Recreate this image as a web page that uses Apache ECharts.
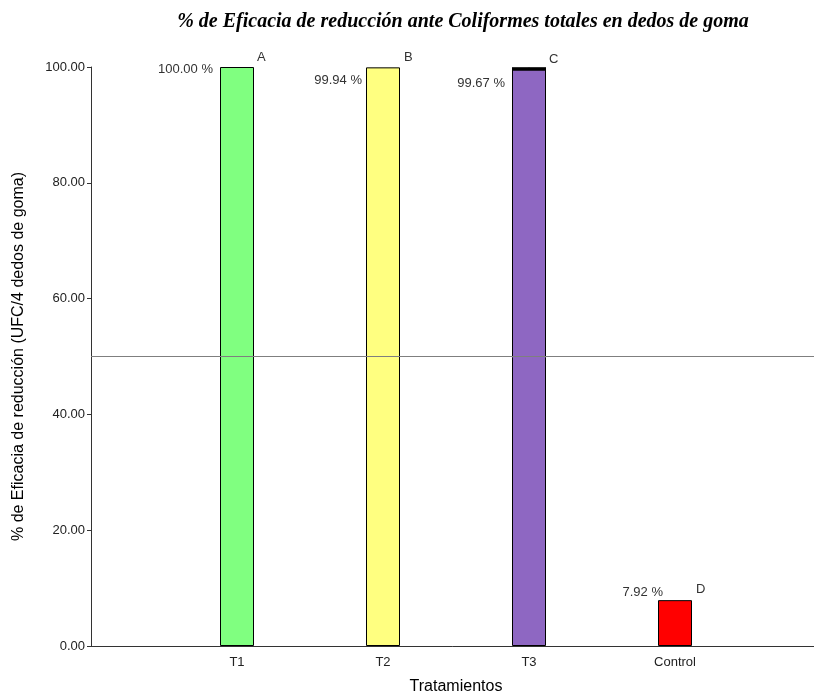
<!DOCTYPE html>
<html>
<head>
<meta charset="utf-8">
<script src="https://cdn.jsdelivr.net/npm/echarts@6/dist/echarts.min.js"></script>
<style>
  html, body { margin: 0; padding: 0; background: #fff; }
  #chart { width: 814px; height: 692px; }
</style>
</head>
<body>
<div id="chart"></div>
<script>
// Treatments and their reduction efficacy (%)
const categories = ['T1', 'T2', 'T3', 'Control'];
const eficacia = [100.00, 99.94, 99.67, 7.92];
const letras = ['A', 'B', 'C', 'D'];
// half-width of the error bar for each treatment
const desviacion = [0, 0, 0.2, 0];
const yTicks = [0, 20, 40, 60, 80, 100];

// style tables (kept apart from the data)
const barColors = ['#80FF80', '#FFFF80', '#8E67C2', '#FF0000'];
const valueLabelPos = [[-7, 2], [-4, 13], [-7, 15], [5, -8]];
const letterLabelPos = [[37, -10], [38, -10], [37, -9], [38, -11]];

const FONT = '"Liberation Sans", Arial, sans-serif';
// empty slot on either side so the bars sit one step in from each edge
const axisCats = [''].concat(categories, ['']);

const chart = echarts.init(document.getElementById('chart'), null, { renderer: 'canvas' });

const valueData = categories.map((c, i) => ({
  value: [c, eficacia[i]],
  itemStyle: { color: barColors[i] },
  label: { position: valueLabelPos[i] }
}));

const letterData = categories.map((c, i) => ({
  value: [c, eficacia[i]],
  label: { position: letterLabelPos[i], formatter: letras[i] }
}));

const errData = categories.map((c, i) => [c, eficacia[i] - desviacion[i], eficacia[i] + desviacion[i]]);

chart.setOption({
  animation: false,
  backgroundColor: '#fff',
  title: {
    text: '% de Eficacia de reducción ante Coliformes totales en dedos de goma',
    left: 458, top: 7, textAlign: 'center',
    textStyle: {
      fontFamily: '"Liberation Serif", "Times New Roman", serif',
      fontStyle: 'italic', fontWeight: 'bold', fontSize: 20, color: '#000'
    }
  },
  grid: { left: 91, top: 67, bottom: 46, width: 730, outerBoundsMode: 'none', containLabel: false },
  xAxis: {
    type: 'category',
    data: axisCats,
    boundaryGap: false,
    name: 'Tratamientos',
    nameLocation: 'middle',
    nameGap: 33,
    nameTextStyle: { fontFamily: FONT, fontSize: 16, color: '#000' },
    axisLine: { lineStyle: { color: '#333', width: 1 } },
    axisTick: { show: false },
    axisLabel: { fontFamily: FONT, fontSize: 13, color: '#222', margin: 10, interval: 0 },
    splitLine: { show: false }
  },
  yAxis: {
    type: 'value',
    min: yTicks[0], max: yTicks[yTicks.length - 1], interval: 20,
    name: '% de Eficacia de reducción (UFC/4 dedos de goma)',
    nameLocation: 'middle',
    nameGap: 64,
    nameTextStyle: { fontFamily: FONT, fontSize: 16, color: '#000' },
    axisLine: { show: true, lineStyle: { color: '#333', width: 1 } },
    axisTick: { show: true, length: 4, lineStyle: { color: '#333' } },
    axisLabel: {
      fontFamily: FONT, fontSize: 13, color: '#222', margin: 6,
      formatter: v => v.toFixed(2)
    },
    splitLine: { show: false }
  },
  series: [
    {
      // reference line at 50 %
      type: 'line', data: [], z: 1, silent: true,
      markLine: {
        symbol: 'none', silent: true,
        label: { show: false },
        lineStyle: { color: '#7f7f7f', width: 1, type: 'solid' },
        data: [{ yAxis: 50 }]
      }
    },
    {
      type: 'bar', z: 2,
      barWidth: 34, barGap: '-100%',
      data: valueData,
      itemStyle: { borderColor: '#000', borderWidth: 1 },
      label: {
        show: true, align: 'right', verticalAlign: 'middle',
        fontFamily: FONT, fontSize: 13, color: '#333',
        formatter: p => p.value[1].toFixed(2) + ' %'
      }
    },
    {
      type: 'bar', z: 3,
      barWidth: 34, barGap: '-100%',
      data: letterData,
      itemStyle: { color: 'rgba(0,0,0,0)' },
      label: {
        show: true, align: 'left', verticalAlign: 'middle',
        fontFamily: FONT, fontSize: 13, color: '#333'
      }
    },
    {
      type: 'custom', z: 4,
      data: errData,
      encode: { x: 0, y: [1, 2] },
      renderItem: function (params, api) {
        const x = api.value(0);
        const lo = api.coord([x, api.value(1)]);
        const hi = api.coord([x, api.value(2)]);
        if (Math.abs(lo[1] - hi[1]) < 0.01) return { type: 'group', children: [] };
        const half = 17;
        const st = { stroke: '#000', lineWidth: 1.2 };
        return {
          type: 'group',
          children: [
            { type: 'line', shape: { x1: lo[0] - half, y1: hi[1], x2: lo[0] + half, y2: hi[1] }, style: st },
            { type: 'line', shape: { x1: lo[0] - half, y1: lo[1], x2: lo[0] + half, y2: lo[1] }, style: st },
            { type: 'line', shape: { x1: lo[0], y1: lo[1], x2: lo[0], y2: hi[1] }, style: st },
            { type: 'rect', shape: { x: lo[0] - half, y: hi[1], width: half * 2, height: lo[1] - hi[1] }, style: { fill: '#000' } }
          ]
        };
      }
    }
  ]
});
</script>
</body>
</html>
